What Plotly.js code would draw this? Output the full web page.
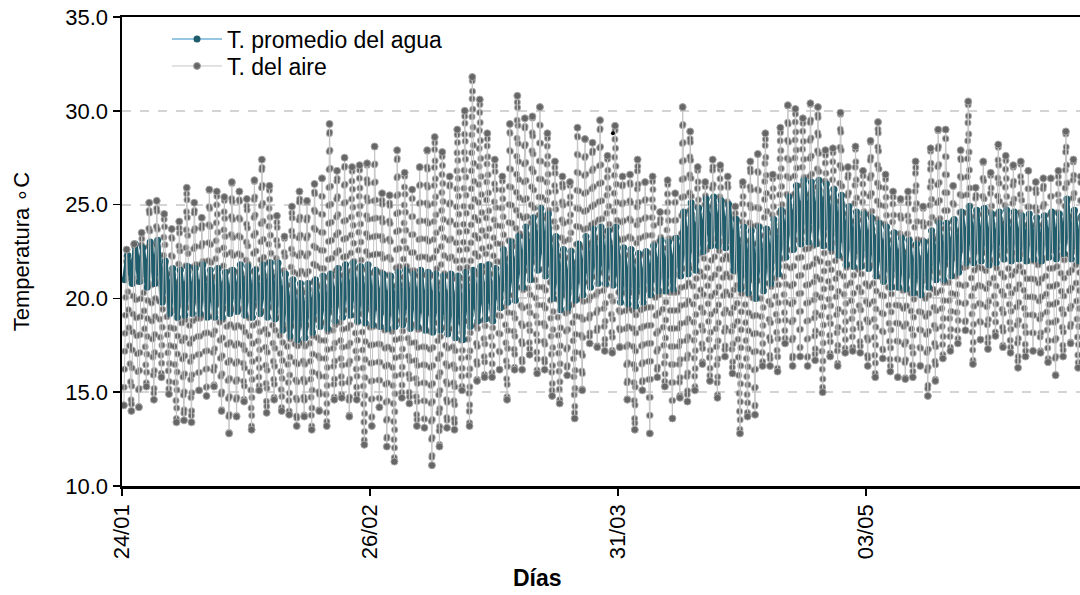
<!DOCTYPE html>
<html><head><meta charset="utf-8">
<script src="https://cdn.plot.ly/plotly-3.0.1.min.js"></script>
<style>html,body{margin:0;padding:0;background:#fff}#chart{width:1080px;height:595px}
.scatterlayer .js-line{stroke-linecap:round}</style>
</head><body><div id="chart"></div>
<script>
// Daily values, day 0 = 24/01
const firstDay = [2019, 0, 24];
const airMax = [22.6,22.9,23.5,25.1,25.2,24.5,23.7,24.1,25.9,25.1,24.3,25.8,25.7,25.4,26.2,25.7,25.3,26.3,27.4,26.0,
  24.4,23.3,24.9,25.7,25.2,26.1,26.4,29.3,26.8,27.5,27.0,27.1,27.2,28.1,25.6,25.5,27.9,26.7,25.8,27.0,
  27.9,28.6,27.8,26.5,29.0,30.0,31.8,30.6,28.8,27.4,26.5,29.3,30.8,29.6,29.7,30.2,28.8,27.3,26.5,26.2,
  29.1,28.5,28.3,29.5,27.6,29.2,26.5,26.6,27.4,26.2,26.5,24.6,26.3,25.6,30.2,28.9,27.0,26.2,27.4,27.1,
  26.5,24.9,26.2,27.3,27.7,28.8,26.6,29.1,30.3,30.1,29.6,30.4,30.2,27.9,28.0,29.9,27.0,28.1,26.8,28.4,
  29.4,26.6,25.7,25.3,25.7,27.3,24.9,28.0,29.0,29.0,26.0,27.9,30.5,25.9,27.3,26.7,28.2,27.6,27.1,27.3,
  26.8,26.2,26.4,26.4,26.8,28.9,27.4,26.5];
const airMin = [14.3,14.0,14.2,15.3,14.6,15.8,14.9,13.4,13.5,13.4,15.1,14.8,15.3,14.0,12.8,13.7,14.5,13.0,15.1,13.9,
  14.6,14.0,13.8,13.2,13.7,13.0,14.0,13.2,14.6,14.7,13.7,14.6,12.2,13.2,14.2,12.1,11.3,14.7,14.4,13.2,
  13.1,11.1,12.1,13.1,13.0,15.1,13.2,15.6,15.8,15.8,16.2,14.6,16.2,16.2,17.0,16.0,16.2,14.8,14.4,15.9,
  13.6,15.1,17.6,17.4,17.2,17.1,17.4,14.6,13.0,15.1,12.8,15.8,15.3,13.6,14.7,14.5,15.1,16.5,15.6,14.7,
  16.9,16.0,12.8,13.7,13.8,16.4,16.4,16.1,17.6,16.4,16.9,16.4,16.7,15.0,16.9,16.4,17.1,17.2,17.1,16.4,
  15.8,16.8,16.1,15.8,15.7,15.8,16.4,14.8,15.6,16.8,17.2,17.6,18.3,16.5,17.8,17.3,18.0,17.4,17.1,16.3,
  16.9,17.2,17.1,16.6,15.9,16.9,17.6,16.3];
const waterMax = [22.3,22.9,22.7,23.0,23.1,22.0,21.6,21.5,21.7,21.6,21.8,21.5,21.6,21.4,21.5,21.8,21.7,21.5,21.8,21.9,
  21.9,21.3,21.0,20.8,20.8,21.0,21.2,21.3,21.6,21.8,21.9,21.7,21.8,21.5,21.3,21.2,21.4,21.5,21.3,21.5,
  21.4,21.3,21.2,21.3,21.2,21.4,21.5,21.7,21.8,21.6,22.6,23.0,23.3,23.8,24.3,24.8,24.5,23.3,22.6,22.5,
  22.9,23.3,23.7,23.8,23.6,23.8,22.7,22.6,22.4,22.5,22.8,23.1,23.0,23.2,24.6,25.1,24.8,25.3,25.4,25.2,
  25.0,24.2,23.8,23.6,23.8,23.7,24.2,24.7,25.4,26.0,26.3,26.2,26.3,26.1,25.8,25.5,24.9,24.6,24.5,24.3,
  24.0,23.8,23.5,23.2,23.1,22.9,23.0,23.6,24.0,24.0,24.2,24.6,24.9,24.7,24.8,24.5,24.6,24.7,24.6,24.4,
  24.5,24.3,24.4,24.6,24.5,25.3,24.7,24.4];
const waterMin = [21.0,20.8,20.9,20.6,20.8,19.8,19.2,19.0,19.1,19.2,19.2,19.0,19.0,19.0,19.2,19.3,19.1,19.0,19.2,19.0,
  18.9,18.3,18.0,17.8,17.9,18.2,18.5,18.4,18.8,19.0,19.1,18.8,18.7,18.6,18.5,18.4,18.5,18.6,18.4,18.5,
  18.3,18.2,18.3,18.1,17.9,17.8,18.5,18.8,18.9,18.8,19.5,19.8,19.9,20.6,21.0,21.5,21.2,20.0,19.4,19.5,
  19.9,20.2,20.6,20.8,20.8,20.7,19.8,19.7,19.6,19.8,20.2,20.4,20.4,20.5,21.2,21.3,21.5,22.5,22.8,22.8,
  22.7,21.5,20.5,20.3,20.0,20.4,20.8,21.3,22.2,22.6,22.9,23.0,22.9,22.8,22.7,22.3,21.8,21.7,21.7,21.6,
  21.2,20.9,20.6,20.6,20.5,20.3,20.2,20.6,21.0,21.0,21.2,21.4,21.9,21.9,22.0,21.8,21.9,22.1,22.0,22.1,
  22.0,22.1,22.0,22.2,22.1,22.4,22.1,22.0];
const extraDate = '2019-03-30 08:00';
const extraValue = 28.8;
const tickDates = ['2019-01-24','2019-02-26','2019-03-31','2019-05-03'];
const tickLabels = ['24/01','26/02','31/03','03/05'];
const rangeEnd = '2019-05-31 12:00';

function stamp(dayFloat){
  const t = new Date(Date.UTC(firstDay[0], firstDay[1], firstDay[2]) + dayFloat*86400000);
  const p = n => String(n).padStart(2,'0');
  return t.getUTCFullYear()+'-'+p(t.getUTCMonth()+1)+'-'+p(t.getUTCDate())+' '+p(t.getUTCHours())+':'+p(t.getUTCMinutes());
}
// each day: minimum in the early morning, maximum in the afternoon
const airX=[], airY=[], waterX=[], waterY=[];
for(let d=0; d<airMax.length; d++){
  airX.push(stamp(d+0.25), stamp(d+0.62)); airY.push(airMin[d], airMax[d]);
  waterX.push(stamp(d+0.35), stamp(d+0.75)); waterY.push(waterMin[d], waterMax[d]);
}
const FONT = 'Liberation Sans, Arial, Helvetica, sans-serif';
const traces = [
  // dotted texture along the daily air path (same data), beneath the water band
  {x: airX, y: airY, type:'scatter', mode:'lines', showlegend:false, hoverinfo:'skip',
   line:{color:'#a8a8a8', width:7, dash:'0px,18px'}},
  {x: airX, y: airY, type:'scatter', mode:'lines', showlegend:false, hoverinfo:'skip',
   line:{color:'#666666', width:5, dash:'0px,18px'}},
  {x: waterX, y: waterY, type:'scatter', mode:'lines+markers', name:'T. promedio del agua', showlegend:false,
   line:{color:'#1f5c6c', width:5}, marker:{size:7, color:'#1f5c6c', line:{width:0}}},
  {x:[null], y:[null], type:'scatter', mode:'lines+markers', name:'T. promedio del agua', legend:'legend',
   line:{color:'#74b3dc', width:1.6}, marker:{size:7, color:'#1f5c6c'}},
  {x: airX, y: airY, type:'scatter', mode:'lines+markers', name:'T. del aire', legend:'legend2',
   line:{color:'#c4c4c4', width:1}, marker:{size:7, color:'#666666', line:{color:'#a6a6a6', width:1}}},
  {x:[extraDate], y:[extraValue], type:'scatter', mode:'markers', showlegend:false, name:'',
   marker:{size:4, color:'#000'}}
];
const legendBase = {x:0.047, xanchor:'left', yanchor:'middle', bgcolor:'rgba(0,0,0,0)',
  font:{size:23, family:FONT}, itemwidth:50};
const layout = {
  width:1080, height:595,
  margin:{l:122, r:0, t:17, b:109},
  paper_bgcolor:'#fff', plot_bgcolor:'#fff',
  font:{family:FONT, size:22, color:'#000'},
  showlegend:true,
  legend:Object.assign({}, legendBase, {y:(486-39)/469}),
  legend2:Object.assign({}, legendBase, {y:(486-66)/469}),
  xaxis:{type:'date', range:['2019-01-24', rangeEnd], tickvals:tickDates, ticktext:tickLabels, tickangle:-90,
    ticks:'outside', ticklen:7, tickwidth:1.5, tickcolor:'#000', showline:true, linecolor:'#000', linewidth:2.5,
    mirror:true, showgrid:false, zeroline:false, tickfont:{size:22, family:FONT}},
  yaxis:{range:[10,35], tickvals:[10,15,20,25,30,35], tickformat:'.1f', ticks:'outside', ticklen:7, tickwidth:1.5,
    tickcolor:'#000', showline:true, linecolor:'#000', linewidth:2.5, showgrid:true, gridcolor:'#d4d4d4',
    griddash:'dash', gridwidth:2, zeroline:false, tickfont:{size:22, family:FONT},
    title:{text:'Temperatura \u2218C', font:{size:22, family:FONT}, standoff:30}},
  annotations:[{text:'<b>Días</b>', xref:'paper', yref:'paper', x:(537-122)/958, y:-(578-486)/469,
    xanchor:'center', yanchor:'middle', showarrow:false, font:{size:23, family:FONT}}]
};
Plotly.newPlot('chart', traces, layout, {displayModeBar:false, staticPlot:true});
</script></body></html>
